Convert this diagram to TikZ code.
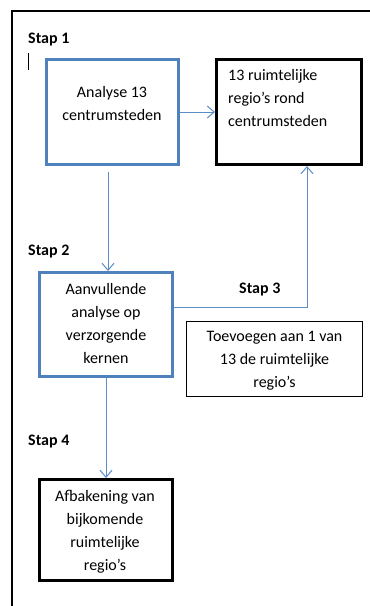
\documentclass[tikz,border=0pt]{standalone}
\usepackage{fontspec}
\setmainfont{Carlito}
\usetikzlibrary{arrows.meta,calc}
\definecolor{boxblue}{RGB}{79,129,189}
\definecolor{linkblue}{RGB}{90,140,200}
\begin{document}
\begin{tikzpicture}[x=1pt,y=-1pt,
  every node/.style={font=\fontsize{16}{23}\selectfont},
  bluebox/.style={draw=boxblue,line width=3pt,inner sep=0pt},
  blackbox/.style={draw=black,line width=3pt,inner sep=0pt},
  thinbox/.style={draw=black,line width=1pt,inner sep=0pt},
  boxtext/.style={anchor=north,inner sep=0pt,align=center},
  steplabel/.style={anchor=base west,inner sep=0pt,font=\fontsize{16}{23}\selectfont\bfseries},
  link/.style={draw=linkblue,line width=1pt},
  linkarrow/.style={link,-{Straight Barb[length=7pt,width=12pt,line width=1pt]}}]
\useasboundingbox (0,0) rectangle (370,606);
\fill[white] (0,0) rectangle (370,606);
% frame
\draw[line width=2pt] (12,607) -- (12,11) -- (371,11);
% cursor
\draw[line width=1pt] (28,53) -- (28,70);
% boxes
\node[bluebox,minimum width=132pt,minimum height=105pt] (b1) at (112.5,112) {};
\node[blackbox,minimum width=145pt,minimum height=105pt] (b2) at (289,112) {};
\node[bluebox,minimum width=133pt,minimum height=104pt] (b3) at (106,324.5) {};
\node[thinbox,minimum width=176pt,minimum height=75pt] (b4) at (274.5,359) {};
\node[blackbox,minimum width=133pt,minimum height=101pt] (b5) at (106,530) {};
% texts
\node[boxtext] (t1) at (112,81) {\strut Analyse 13\\centrumsteden};
\node[boxtext,align=left,anchor=north west] (t2) at (228,64) {\strut 13 ruimtelijke\\regio’s rond\\centrumsteden};
\node[boxtext] (t3) at (106,278) {\strut Aanvullende\\analyse op\\verzorgende\\kernen};
\node[boxtext] (t4) at (274.5,325.5) {\strut Toevoegen aan 1 van\\13 de ruimtelijke\\regio’s};
\node[boxtext] (t5) at (105,485.5) {\strut Afbakening van\\bijkomende\\ruimtelijke\\regio’s};
% step labels
\node[steplabel] (s1) at (28,43) {Stap 1};
\node[steplabel] (s2) at (28,255) {Stap 2};
\node[steplabel] (s3) at (239,293) {Stap 3};
\node[steplabel] (s4) at (28,445) {Stap 4};
% connectors
\draw[linkarrow] (b1.east) -- (b2.west);
\draw[linkarrow] ($(b1.south -| 108,0)+(0,6)$) -- (b3.north -| 108,0);
\draw[linkarrow] (b3.east |- 0,307) -| (b2.south -| 307,0);
\draw[linkarrow] (b3.south) -- (b5.north);
\end{tikzpicture}
\end{document}
